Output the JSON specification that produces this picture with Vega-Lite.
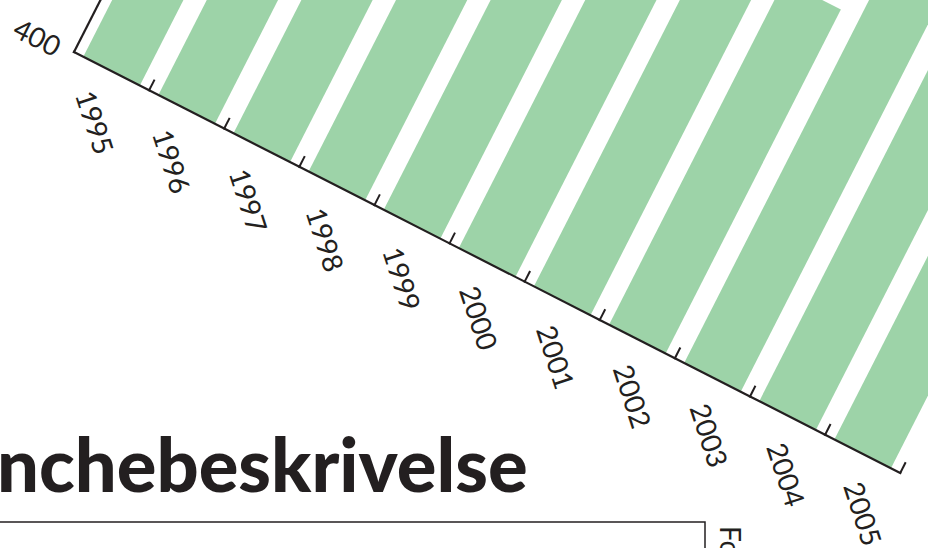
{
  "$schema": "https://vega.github.io/schema/vega-lite/v6.json",
  "width": 928,
  "height": 548,
  "autosize": {"type": "none"},
  "padding": 0,
  "background": "white",
  "config": {"view": {"stroke": null}},
  "datasets": {
    "bars": [
      {"year": 1995, "value": 1150},
      {"year": 1996, "value": 1170},
      {"year": 1997, "value": 1140},
      {"year": 1998, "value": 1190},
      {"year": 1999, "value": 1160},
      {"year": 2000, "value": 1210},
      {"year": 2001, "value": 1180},
      {"year": 2002, "value": 786},
      {"year": 2003, "value": 1220},
      {"year": 2004, "value": 1240},
      {"year": 2005, "value": 1260}
    ],
    "yaxis": [{"min": 400, "max": 1300}],
    "page": [{"title": "nchebeskrivelse", "side": "Fo"}]
  },
  "encoding": {
    "x": {"field": "px", "type": "quantitative", "scale": {"domain": [0, 928], "range": [0, 928], "zero": false, "nice": false}, "axis": null},
    "y": {"field": "py", "type": "quantitative", "scale": {"domain": [0, 548], "range": [0, 548], "zero": false, "nice": false}, "axis": null}
  },
  "layer": [
    {
      "data": {"name": "bars"},
      "transform": [
        {"calculate": "(datum.year - 1995) * 84.3 + 42.15", "as": "lc"},
        {"calculate": "datum.value - 400", "as": "h"},
        {"calculate": "74 + datum.lc * 0.891", "as": "px"},
        {"calculate": "52 + datum.lc * 0.454", "as": "py"},
        {"calculate": "datum.px + datum.h * 0.454", "as": "px2"},
        {"calculate": "datum.py - datum.h * 0.891", "as": "py2"}
      ],
      "mark": {"type": "rule", "strokeWidth": 63.5, "strokeCap": "butt", "color": "#9dd3a8", "clip": true},
      "encoding": {"x2": {"field": "px2"}, "y2": {"field": "py2"}}
    },
    {
      "data": {"name": "bars"},
      "transform": [
        {"calculate": "(datum.year - 1995) * 84.3", "as": "l0"},
        {"calculate": "datum.l0 + 84.3", "as": "l1"},
        {"calculate": "74 + datum.l0 * 0.891", "as": "px"},
        {"calculate": "52 + datum.l0 * 0.454", "as": "py"},
        {"calculate": "74 + datum.l1 * 0.891", "as": "px2"},
        {"calculate": "52 + datum.l1 * 0.454", "as": "py2"}
      ],
      "mark": {"type": "rule", "strokeWidth": 2.2, "strokeCap": "square", "color": "#231f20"},
      "encoding": {"x2": {"field": "px2"}, "y2": {"field": "py2"}}
    },
    {
      "data": {"name": "bars"},
      "transform": [
        {"calculate": "(datum.year - 1995 + 1) * 84.3", "as": "lt"},
        {"calculate": "74 + datum.lt * 0.891", "as": "px"},
        {"calculate": "52 + datum.lt * 0.454", "as": "py"},
        {"calculate": "datum.px + 12 * 0.454", "as": "px2"},
        {"calculate": "datum.py - 12 * 0.891", "as": "py2"}
      ],
      "mark": {"type": "rule", "strokeWidth": 2, "strokeCap": "butt", "color": "#231f20"},
      "encoding": {"x2": {"field": "px2"}, "y2": {"field": "py2"}}
    },
    {
      "data": {"name": "yaxis"},
      "transform": [
        {"calculate": "74", "as": "px"},
        {"calculate": "52", "as": "py"},
        {"calculate": "74 + (datum.max - datum.min) * 0.454", "as": "px2"},
        {"calculate": "52 - (datum.max - datum.min) * 0.891", "as": "py2"}
      ],
      "mark": {"type": "rule", "strokeWidth": 2.2, "strokeCap": "square", "color": "#231f20", "clip": true},
      "encoding": {"x2": {"field": "px2"}, "y2": {"field": "py2"}}
    },
    {
      "data": {"name": "bars"},
      "transform": [
        {"calculate": "(datum.year - 1995) * 86.2 + 25.8", "as": "ll"},
        {"calculate": "74 + datum.ll * 0.891 - 32 * 0.454", "as": "px"},
        {"calculate": "52 + datum.ll * 0.454 + 32 * 0.891", "as": "py"}
      ],
      "mark": {"type": "text", "angle": 72, "align": "left", "baseline": "middle", "font": "Lato", "fontSize": 28, "color": "#231f20", "clip": true},
      "encoding": {"text": {"field": "year", "type": "nominal"}}
    },
    {
      "data": {"name": "yaxis"},
      "transform": [
        {"calculate": "74 - 15 * 0.891 - 5.9 * 0.454", "as": "px"},
        {"calculate": "52 - 15 * 0.454 + 5.9 * 0.891", "as": "py"}
      ],
      "mark": {"type": "text", "angle": 27, "align": "right", "baseline": "middle", "font": "Lato", "fontSize": 28, "color": "#231f20", "clip": true},
      "encoding": {"text": {"field": "min", "type": "nominal"}}
    },
    {
      "data": {"name": "page"},
      "transform": [
        {"calculate": "-3", "as": "px"},
        {"calculate": "492", "as": "py"}
      ],
      "mark": {"type": "text", "align": "left", "baseline": "alphabetic", "font": "Lato", "fontWeight": 900, "fontSize": 74, "color": "#231f20", "clip": true},
      "encoding": {"text": {"field": "title", "type": "nominal"}}
    },
    {
      "data": {"name": "page"},
      "transform": [
        {"calculate": "-5", "as": "px"},
        {"calculate": "705", "as": "px2"},
        {"calculate": "522", "as": "py"},
        {"calculate": "600", "as": "py2"}
      ],
      "mark": {"type": "rect", "fill": "white", "fillOpacity": 0, "stroke": "#231f20", "strokeWidth": 1.5, "clip": true},
      "encoding": {"x2": {"field": "px2"}, "y2": {"field": "py2"}}
    },
    {
      "data": {"name": "page"},
      "transform": [
        {"calculate": "720", "as": "px"},
        {"calculate": "526", "as": "py"}
      ],
      "mark": {"type": "text", "angle": 90, "align": "left", "baseline": "alphabetic", "font": "Lato", "fontSize": 28, "color": "#231f20", "clip": true},
      "encoding": {"text": {"field": "side", "type": "nominal"}}
    }
  ]
}
